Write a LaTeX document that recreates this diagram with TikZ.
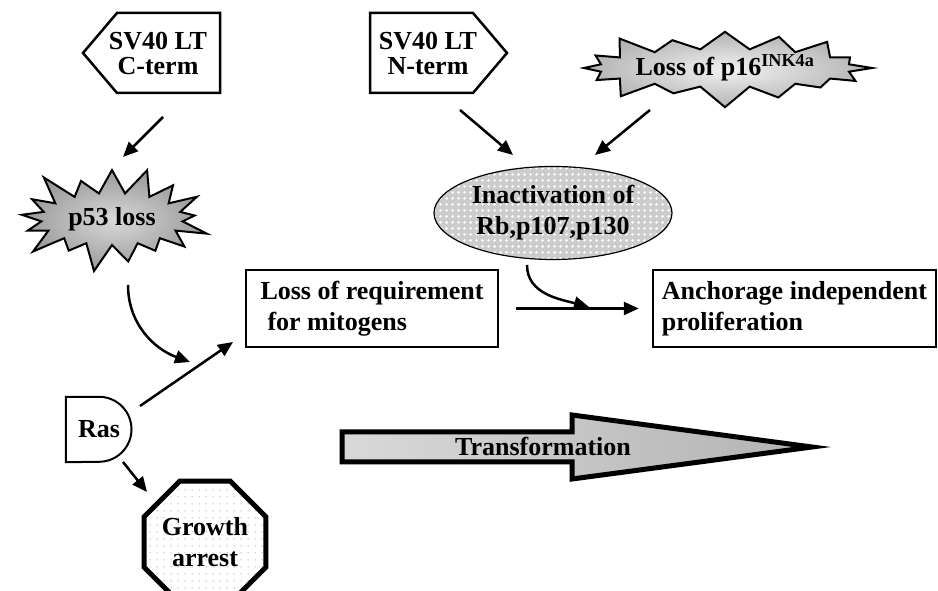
\documentclass[tikz,border=0pt]{standalone}
\usepackage{fontspec}
\setmainfont{Liberation Serif}
\usetikzlibrary{arrows.meta,shapes.symbols,shapes.geometric,patterns.meta}

\tikzdeclarepattern{
  name=finedots, type=uncolored,
  tile size={(7pt,7pt)}, bounding box={(0pt,0pt) and (7pt,7pt)},
  code={\fill (3.5pt,3.5pt) circle[radius=0.7pt];}
}
\tikzdeclarepattern{
  name=bubbles, type=uncolored,
  tile size={(6pt,6pt)}, bounding box={(0pt,0pt) and (6pt,6pt)},
  code={\fill (3pt,3pt) circle[radius=1.7pt];}
}

\tikzset{
  txt/.style={font=\bfseries\fontsize{26}{31}\selectfont, align=center},
  tagtxt/.style={txt, font=\bfseries\fontsize{26}{25}\selectfont},
  tag/.style={draw, line width=2.5pt},
  burst/.style={txt, draw, line width=2pt, starburst, inner sep=0pt, shading=radial},
  box/.style={txt, draw, line width=2.5pt, align=left, minimum height=77pt},
  arr/.style={line width=2.5pt, -{Triangle[length=15pt,width=13pt]}},
}

\begin{document}
\begin{tikzpicture}[x=1pt,y=1pt]
	\useasboundingbox (0,0) rectangle (938,591);
	%% viral proteins and p16
	\draw[tag] (83,538) -- (117,578) -- (220,578) -- (220,498) -- (117,498) -- cycle;
	\node[tagtxt] (cterm) at (158,538) {SV40 LT\\C-term};
	\draw[tag] (370,498) -- (370,578) -- (473,578) -- (507,538) -- (473,498) -- cycle;
	\node[tagtxt] (nterm) at (428,538) {SV40 LT\\N-term};
	\node[burst, minimum width=296pt, minimum height=86pt, starburst points=16,
	  starburst point height=24pt, inner color=gray!10, outer color=gray!60] (p16) at (725,523) {Loss of p16\textsuperscript{INK4a}};
	%% second row
	\node[burst, minimum width=206pt, minimum height=116pt, starburst point height=32pt,
	  inner color=gray!30, outer color=gray!80] (p53) at (112,372) {p53 loss};
	\node[txt, ellipse, draw, line width=1.2pt, minimum width=238pt, minimum height=93pt, inner sep=0pt,
	  preaction={fill=gray!40}, pattern=bubbles, pattern color=white] (rb) at (553,378) {Inactivation of\\Rb,p107,p130};
	%% boxes
	\node[box, minimum width=252pt] (mito) at (372,282.5) {Loss of requirement\\\hspace*{7pt}for mitogens};
	\node[box, minimum width=283pt] (anch) at (794.5,282.5) {Anchorage independent\\proliferation};
	%% Ras and growth arrest
	\node[txt, minimum width=66pt, minimum height=65pt, inner sep=0pt] (ras) at (99,161.5) {Ras};
	\draw[line width=2pt] (ras.north west) -- (ras.north) arc[start angle=90, end angle=-90, radius=32.5pt] -- (ras.south west) -- cycle;
	\node[txt, draw, line width=5pt, regular polygon, regular polygon sides=8, minimum size=120pt, inner sep=0pt,
	  pattern=finedots, pattern color=gray!80] (growth) at (205,49) {Growth\\arrest};
	%% big arrow
	\draw[line width=5pt, left color=gray!30, right color=gray!60]
	  (342,159) -- (572,159) -- (572,176) -- (812,144) -- (572,112) -- (572,129) -- (342,129) -- cycle;
	\node[txt] (transf) at (543,145) {Transformation};
	%% arrows
	\draw[arr] ([shift={(5,-64)}]cterm.center) -- ([shift={(11,62)}]p53.center);
	\draw[arr] ([shift={(32,-57)}]nterm.center) -- ([shift={(-40,58)}]rb.center);
	\draw[arr] ([shift={(-75,-42)}]p16.center) -- ([shift={(42,58)}]rb.center);
	\coordinate (p53end) at (190,229);
	\draw[arr] ([shift={(16,-66)}]p53.center) to[out=-90, in=160] (p53end);
	\draw[arr] ([shift={(41,23.5)}]ras.center) -- ([shift={(-139,-33.5)}]mito.center);
	\draw[arr] ([shift={(24,-32.5)}]ras.center) -- ([shift={(-58,50)}]growth.center);
	\draw[arr, shorten <=17pt, shorten >=13pt] (mito.east) -- (anch.west);
	\coordinate (rbend) at (589,284);
	\draw[arr] ([shift={(-26,-52)}]rb.center) to[out=-90, in=165] (rbend);
\end{tikzpicture}
\end{document}
